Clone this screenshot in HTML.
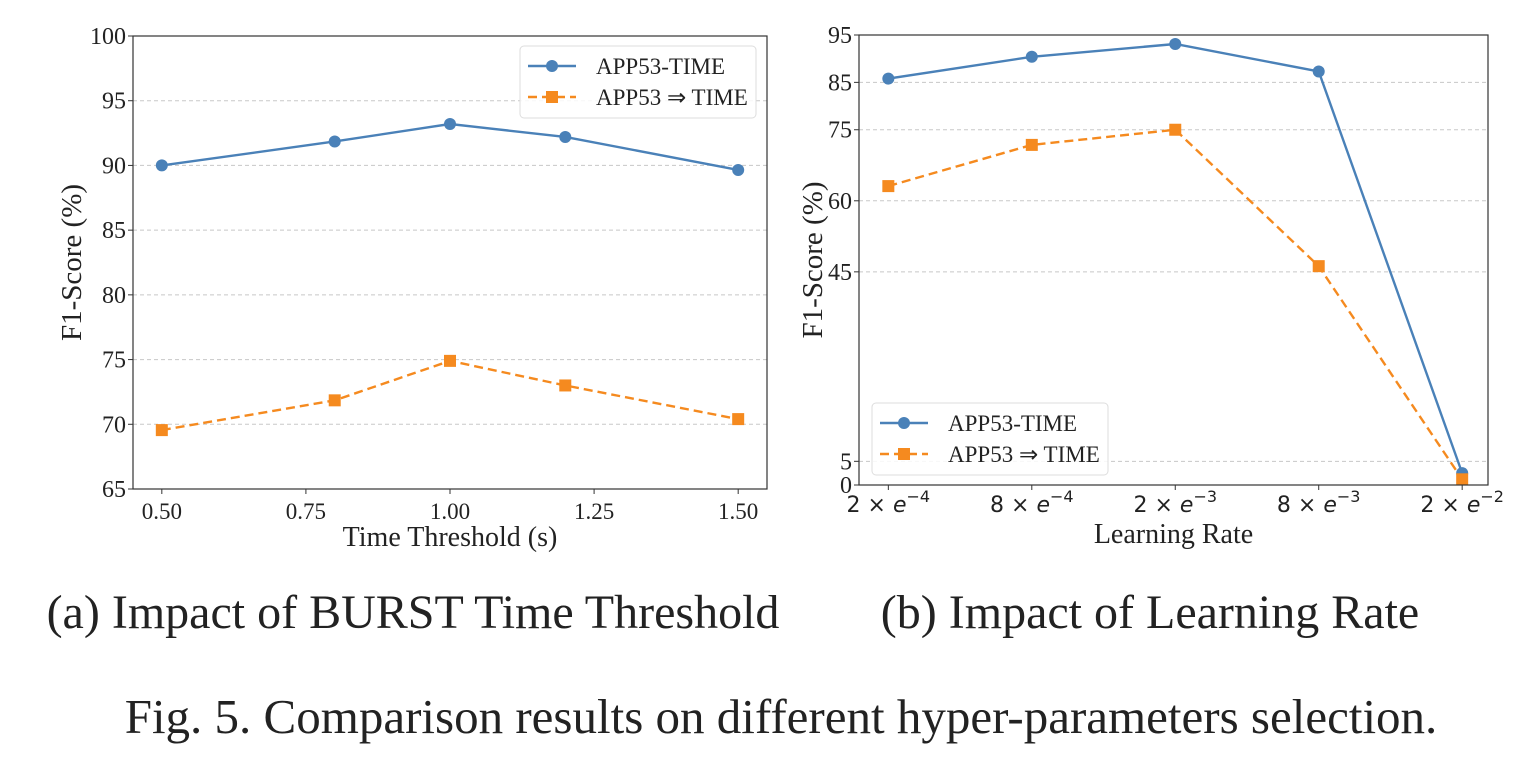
<!DOCTYPE html>
<html><head><meta charset="utf-8">
<style>
body{margin:0;background:#fff;width:1540px;height:769px;overflow:hidden;font-family:"Liberation Serif",serif;}
svg{display:block}
</style></head>
<body>
<svg id="fig" width="1540" height="769" font-family="Liberation Serif, serif">
<text x="413" y="628" font-size="48" text-anchor="middle" fill="#222">(a) Impact of BURST Time Threshold</text>
<text x="1150" y="628" font-size="48" text-anchor="middle" fill="#222">(b) Impact of Learning Rate</text>
<text x="781" y="733" font-size="49" text-anchor="middle" fill="#222">Fig. 5.  Comparison results on different hyper-parameters selection.</text>
</svg>
<script>
// Chart A data
const aX = [0.5, 0.8, 1.0, 1.2, 1.5];
const aBlue = [90.0, 91.85, 93.2, 92.2, 89.65];
const aOrange = [69.55, 71.85, 74.9, 73.0, 70.4];
const aYTicks = [65, 70, 75, 80, 85, 90, 95, 100];
const aXTicks = [0.5, 0.75, 1.0, 1.25, 1.5];
const aXTickLabels = ["0.50", "0.75", "1.00", "1.25", "1.50"];
// Chart B data
const bCats = ["2e-4", "8e-4", "2e-3", "8e-3", "2e-2"];
const bXTickBase = ["2", "8", "2", "8", "2"];
const bXTickExp = ["\u22124", "\u22124", "\u22123", "\u22123", "\u22122"];
const bBlue = [85.8, 90.4, 93.1, 87.3, 2.5];
const bOrange = [63.1, 71.8, 75.0, 46.2, 1.2];
const bYTicks = [0, 5, 45, 60, 75, 85, 95];
const seriesNames = ["APP53-TIME", "APP53 \u21D2 TIME"];

const NS = "http://www.w3.org/2000/svg";
const svg = document.getElementById("fig");
function mk(tag, attrs, parent) {
  const e = document.createElementNS(NS, tag);
  for (const k in attrs) e.setAttribute(k, attrs[k]);
  (parent || svg).appendChild(e);
  return e;
}
const BLUE = "#4a81b8", ORANGE = "#f58a1f";

function drawChart(cfg) {
  const g = mk("g", {});
  
  
  const L = cfg.left, R = cfg.right, T = cfg.top, B = cfg.bottom;
  const sx = v => L + (v - cfg.xmin) / (cfg.xmax - cfg.xmin) * (R - L);
  const sy = v => B - (v - cfg.ymin) / (cfg.ymax - cfg.ymin) * (B - T);
  cfg.yTicks.forEach(t => {
    const y = sy(t);
    if (t !== cfg.ymin && t !== cfg.ymax) {
      const gl = mk("line", {x1: L, x2: R, y1: y, y2: y, stroke: "#c8c8c8", "stroke-width": 1, "stroke-dasharray": "4,3"}, g);
      
      
    }
    mk("line", {x1: L - 5, x2: L, y1: y, y2: y, stroke: "#333", "stroke-width": 1}, g);
    const tl = mk("text", {x: L - 7, y: y + 8, "font-size": 24, "text-anchor": "end", fill: "#222"}, g);
    tl.textContent = t;
    
    
  });
  cfg.xTicks.forEach((t, i) => {
    const x = sx(t);
    mk("line", {x1: x, x2: x, y1: B, y2: B + 5, stroke: "#333", "stroke-width": 1}, g);
    const tl = mk("text", {x: x, y: B + cfg.xTickDy, "font-size": 23, "text-anchor": "middle", fill: "#222"}, g);
    
    
    cfg.xLabel(tl, i);
  });
  const series = [
    {vals: cfg.blue, color: BLUE, dash: null, marker: "circle", name: "series-app53-time"},
    {vals: cfg.orange, color: ORANGE, dash: "9,5", marker: "square", name: "series-app53-to-time"}
  ];
  series.forEach(s => {
    const pts = s.vals.map((v, i) => sx(cfg.xs[i]) + "," + sy(v)).join(" ");
    const pl = mk("polyline", {points: pts, fill: "none", stroke: s.color, "stroke-width": 2.4}, g);
    if (s.dash) pl.setAttribute("stroke-dasharray", s.dash);
    
    
    s.vals.forEach((v, i) => {
      const x = sx(cfg.xs[i]), y = sy(v);
      let m;
      if (s.marker === "circle") m = mk("circle", {cx: x, cy: y, r: 6, fill: s.color}, g);
      else m = mk("rect", {x: x - 6, y: y - 6, width: 12, height: 12, fill: s.color}, g);
      
      
    });
  });
  const fr = mk("rect", {x: L, y: T, width: R - L, height: B - T, fill: "none", stroke: "#333", "stroke-width": 1.2}, g);
  
  
  const xt = mk("text", {x: (L + R) / 2, y: B + cfg.xTitleDy, "font-size": 28, "text-anchor": "middle", fill: "#222"}, g);
  xt.textContent = cfg.xTitle;
  
  
  const yx = cfg.yTitleX, yy = (T + B) / 2;
  const yt = mk("text", {x: yx, y: yy, "font-size": 29, "text-anchor": "middle", fill: "#222", transform: "rotate(-90 " + yx + " " + yy + ")"}, g);
  yt.textContent = "F1-Score (%)";
  
  
  const lg = mk("g", {}, g);
  
  
  const lx = cfg.legend[0], ly = cfg.legend[1];
  mk("rect", {x: lx, y: ly, width: 236, height: 72, rx: 4, fill: "#fff", "fill-opacity": 0.85, stroke: "#ddd", "stroke-width": 1}, lg);
  series.forEach((s, i) => {
    const yy2 = ly + 20 + i * 31;
    const ln = mk("line", {x1: lx + 8, x2: lx + 56, y1: yy2, y2: yy2, stroke: s.color, "stroke-width": 2.4}, lg);
    if (s.dash) ln.setAttribute("stroke-dasharray", "9,5");
    if (s.marker === "circle") mk("circle", {cx: lx + 32, cy: yy2, r: 6, fill: s.color}, lg);
    else mk("rect", {x: lx + 26, y: yy2 - 6, width: 12, height: 12, fill: s.color}, lg);
    const t = mk("text", {x: lx + 76, y: yy2 + 8, "font-size": 23, fill: "#222"}, lg);
    t.textContent = seriesNames[i];
    
    
  });
}

drawChart({
  name: "chart-time-threshold", left: 133, right: 767, top: 36, bottom: 489,
  xmin: 0.45, xmax: 1.55, ymin: 65, ymax: 100,
  xs: aX, blue: aBlue, orange: aOrange, yTicks: aYTicks, xTicks: aXTicks, xTickDy: 30, xTitleDy: 57,
  xLabel: (el, i) => { el.textContent = aXTickLabels[i]; },
  xTitle: "Time Threshold (s)", yTitleX: 81, legend: [520, 46]
});
drawChart({
  name: "chart-learning-rate", left: 859, right: 1488, top: 35, bottom: 485,
  xmin: -0.2045, xmax: 4.18, ymin: 0, ymax: 95,
  xs: bCats.map((c, i) => i), blue: bBlue, orange: bOrange, yTicks: bYTicks, xTicks: bCats.map((c, i) => i), xTickDy: 27, xTitleDy: 58,
  xLabel: (el, i) => {
    el.setAttribute("font-family", "DejaVu Sans, sans-serif");
    el.setAttribute("font-size", 22);
    el.textContent = bXTickBase[i] + " \u00D7 ";
    const e = document.createElementNS(NS, "tspan");
    e.setAttribute("font-style", "italic");
    e.textContent = "e";
    el.appendChild(e);
    const sp = document.createElementNS(NS, "tspan");
    sp.setAttribute("dy", -10); sp.setAttribute("font-size", 16);
    sp.textContent = bXTickExp[i];
    el.appendChild(sp);
  },
  xTitle: "Learning Rate", yTitleX: 822, legend: [872, 403]
});
</script>
</body></html>
